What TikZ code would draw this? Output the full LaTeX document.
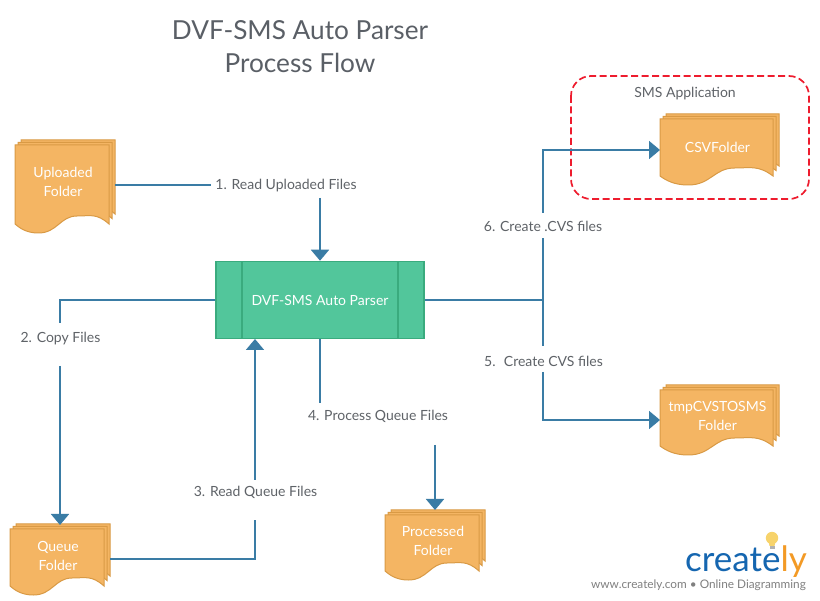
\documentclass[tikz,border=0pt]{standalone}
\usepackage{fontspec}
\setmainfont{Lato}
\usetikzlibrary{arrows.meta}
\definecolor{flow}{HTML}{3A7CA5}
\definecolor{foldfill}{HTML}{F4B563}
\definecolor{foldline}{HTML}{D99A45}
\definecolor{procfill}{HTML}{52C69B}
\definecolor{procline}{HTML}{3AAB7E}
\definecolor{labelgray}{HTML}{5F6368}
\definecolor{titlegray}{HTML}{5A5F66}
\definecolor{logoblue}{HTML}{1566B0}
\definecolor{logoorange}{HTML}{F39A25}
\definecolor{groupred}{HTML}{EE1C2E}
\definecolor{bulb}{HTML}{F7D36B}
\tikzset{
  sheet/.style={draw=foldline,fill=foldfill,line width=1pt},
  foldertext/.style={text=white,font=\fontsize{14}{19}\selectfont,align=center,inner sep=0pt},
  conn/.style={draw=flow,line width=1.7pt},
  arrowed/.style={conn,-{Triangle[length=11pt,width=18pt]}},
  steplabel/.style={text=labelgray,font=\fontsize{14}{16}\selectfont,inner sep=0pt},
  proc/.style={draw=procline,fill=procfill,line width=1.5pt,minimum width=208pt,minimum height=77pt,inner sep=0pt,text=white,font=\fontsize{14}{16}\selectfont},
  divider/.style={draw=procline,line width=1.5pt}
}
% left, top, width, height
\newcommand{\foldersheet}[4]{%
  \path[sheet] (#1,#2) -- (#1+#3,#2) -- (#1+#3,#2+#4-9)
    .. controls (#1+#3-0.13*#3,#2+#4-20) and (#1+0.8*#3,#2+#4-17) .. (#1+0.66*#3,#2+#4-17)
    .. controls (#1+0.48*#3,#2+#4-17) and (#1+0.45*#3,#2+#4) .. (#1+0.25*#3,#2+#4)
    .. controls (#1+0.12*#3,#2+#4) and (#1+0.05*#3,#2+#4-5) .. (#1,#2+#4-9)
    -- cycle;}
% name, left, top, width, height, text offset, text
\newcommand{\folder}[7]{%
  \foldersheet{#2+6}{#3-5}{#4}{#5-5}
  \foldersheet{#2+3}{#3-2.5}{#4}{#5-3}
  \foldersheet{#2}{#3}{#4}{#5}
  \node[foldertext,minimum width=#4pt+6pt,minimum height=#5pt+5pt] (#1) at (#2+#4/2+3,#3+#5/2-2.5) {};
  \node[foldertext] (#1text) at (#2+#4/2+1,#3+#6+1) {#7};}
\begin{document}
\begin{tikzpicture}[x=1pt,y=-1pt]
\useasboundingbox (0,0) rectangle (820,601);
\fill[white] (0,0) rectangle (820,601);

\node[text=titlegray,font=\fontsize{26.2}{33}\selectfont,align=center,inner sep=0pt] (title) at (300,47) {DVF-SMS Auto Parser\\Process Flow};

\draw[draw=groupred,dash pattern=on 7pt off 3.5pt,line width=1.7pt,rounded corners=20pt] (571,76) rectangle (809,199);
\node[steplabel] (smsapp) at (685,94) {SMS Application};

\folder{uploaded}{15}{145}{94}{88}{36}{Uploaded\\Folder}
\folder{csv}{660}{119}{113}{66}{27}{CSVFolder}
\folder{tmp}{660}{390}{113}{65}{25}{tmpCVSTOSMS\\Folder}
\folder{processed}{385}{515}{94}{65}{25}{Processed\\Folder}
\folder{queue}{10}{529}{94}{66}{26}{Queue\\Folder}

\node[proc] (parser) at (320,300) {DVF-SMS Auto Parser};
\draw[divider] (242,261.5) -- (242,338.5);
\draw[divider] (398,261.5) -- (398,338.5);

\node[steplabel] (l1) at (286,186) {1. Read Uploaded Files};
\node[steplabel] (l2) at (60.5,338.5) {2. Copy Files};
\node[steplabel] (l3) at (255.5,492) {3. Read Queue Files};
\node[steplabel] (l4) at (378,416) {4. Process Queue Files};
\node[steplabel] (l5) at (543.5,361) {5.~ Create CVS files};
\node[steplabel] (l6) at (543,226) {6. Create .CVS files};

\coordinate (j) at (543,300);

\draw[conn] (uploaded.east |- 0,185) -- (211,185);
\draw[arrowed] (parser.north |- 0,198) -- (parser.north);
\draw[conn] (parser.west) -- (60,300) -- (60,323);
\draw[arrowed] (60,366) -- (60,525);
\draw[conn] (110,559) -- (255,559) -- (255,520);
\draw[arrowed] (255,480) -- (255,339);
\draw[conn] (parser.south) -- (320,403);
\draw[arrowed] (435,445) -- (435,510);
\draw[conn] (parser.east) -- (j);
\draw[conn] (j) -- (543,346);
\draw[arrowed] (543,372) -- (543,420) -- (660,420);
\draw[conn] (j) -- (543,238);
\draw[arrowed] (543,213) -- (543,150) -- (660,150);

% logo
\fill[bulb] (772,538) circle (6.2pt);
\fill[bulb] (768.5,541) -- (775.5,541) -- (774.5,546) -- (769.5,546) -- cycle;
\fill[gray!60] (769.5,546) rectangle (774.5,549);
\node[anchor=base east,inner sep=0pt,font=\fontsize{35}{35}\selectfont] (logo) at (807,572) {\textcolor{logoblue}{create}\textcolor{logoorange}{ly}};
\node[anchor=base east,inner sep=0pt,text=gray,font=\fontsize{11.8}{14}\selectfont] (site) at (806,589) {www.creately.com • Online Diagramming};
\end{tikzpicture}
\end{document}
